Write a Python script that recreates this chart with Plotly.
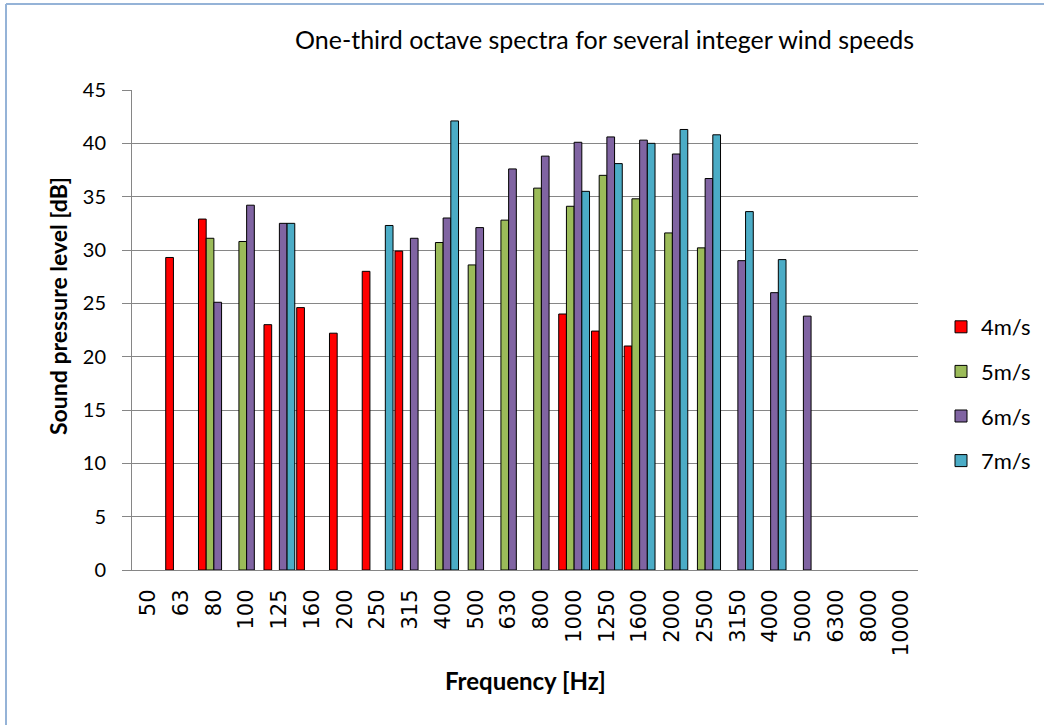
import plotly.graph_objects as go

frequencies = ["50", "63", "80", "100", "125", "160", "200", "250", "315", "400",
               "500", "630", "800", "1000", "1250", "1600", "2000", "2500", "3150",
               "4000", "5000", "6300", "8000", "10000"]

spl_4ms = [None, 29.3, 32.9, None, 23.0, 24.6, 22.2, 28.0, 29.9, None,
           None, None, None, 24.0, 22.4, 21.0, None, None, None,
           None, None, None, None, None]
spl_5ms = [None, None, 31.1, 30.8, None, None, None, None, None, 30.7,
           28.6, 32.8, 35.8, 34.1, 37.0, 34.8, 31.6, 30.2, None,
           None, None, None, None, None]
spl_6ms = [None, None, 25.1, 34.2, 32.5, None, None, None, 31.1, 33.0,
           32.1, 37.6, 38.8, 40.1, 40.6, 40.3, 39.0, 36.7, 29.0,
           26.0, 23.8, None, None, None]
spl_7ms = [None, None, None, None, 32.5, None, None, 32.3, None, 42.1,
           None, None, None, 35.5, 38.1, 40.0, 41.3, 40.8, 33.6,
           29.1, None, None, None, None]

series_names = ["4m/s", "5m/s", "6m/s", "7m/s"]
series_values = [spl_4ms, spl_5ms, spl_6ms, spl_7ms]
series_colors = ["#FF0000", "#9BBB59", "#8064A2", "#4BACC6"]

W, H = 1044, 725
L, R, T, B = 132, 126, 90, 155
PW, PH = W - L - R, H - T - B

def px_x(p):
    return (p - L) / PW

def px_y(p):
    return (H - B - p) / PH

fig = go.Figure()
for i, (name, vals, col) in enumerate(zip(series_names, series_values, series_colors)):
    fig.add_trace(go.Bar(
        x=frequencies, y=vals, name=name, legendgroup=name,
        marker=dict(color=col, line=dict(color="#000000", width=1)),
    ))

FONT = "Lato"
fig.update_layout(
    width=W, height=H,
    margin=dict(l=L, r=R, t=T, b=B, pad=0, autoexpand=False),
    paper_bgcolor="white", plot_bgcolor="white",
    barmode="group", bargap=0.06, bargroupgap=0,
    font=dict(family=FONT, color="#000000"),
    showlegend=True,
    legend=dict(
        x=px_x(941), y=px_y(306), xanchor="left", yanchor="top",
        font=dict(family=FONT, size=22, color="#000000"),
        tracegroupgap=13, traceorder="grouped",
        bgcolor="rgba(0,0,0,0)",
    ),
    xaxis=dict(
        type="category", categoryorder="array", categoryarray=frequencies,
        showgrid=False, showline=True, linecolor="#868686", linewidth=1,
        ticks="", tickangle=-90,
        tickfont=dict(family="DejaVu Sans", size=21, color="#000000"),
        ticklabelstandoff=10, zeroline=False,
    ),
    yaxis=dict(
        range=[0, 45], tickvals=[0, 5, 10, 15, 20, 25, 30, 35, 40, 45],
        showgrid=True, gridcolor="#868686", gridwidth=1,
        showline=True, linecolor="#868686", linewidth=1,
        ticks="outside", ticklen=9, tickcolor="#868686",
        tickfont=dict(family=FONT, size=20, color="#000000"),
        ticklabelstandoff=12, zeroline=False,
    ),
    annotations=[
        dict(text="One-third octave spectra for several integer wind speeds",
             xref="paper", yref="paper", x=px_x(604), y=px_y(39),
             xanchor="center", yanchor="middle", showarrow=False,
             font=dict(family=FONT, size=25, color="#000000")),
        dict(text="<b>Sound pressure level [dB]</b>",
             xref="paper", yref="paper", x=px_x(58), y=px_y(306),
             xanchor="center", yanchor="middle", showarrow=False, textangle=-90,
             font=dict(family=FONT, size=23, color="#000000")),
        dict(text="<b>Frequency [Hz]</b>",
             xref="paper", yref="paper", x=0.5, y=px_y(680),
             xanchor="center", yanchor="middle", showarrow=False,
             font=dict(family=FONT, size=24, color="#000000")),
    ],
    shapes=[
        dict(type="line", xref="paper", yref="paper",
             x0=px_x(6), x1=px_x(6), y0=px_y(760), y1=px_y(4),
             line=dict(color="#95B3D7", width=2), layer="below"),
        dict(type="line", xref="paper", yref="paper",
             x0=px_x(6), x1=px_x(1100), y0=px_y(4), y1=px_y(4),
             line=dict(color="#95B3D7", width=2), layer="below"),
    ],
)

fig.write_html(
    "out.html",
    config={"displayModeBar": False},
    post_script="document.body.style.margin='0';document.body.style.overflow='hidden';",
)
